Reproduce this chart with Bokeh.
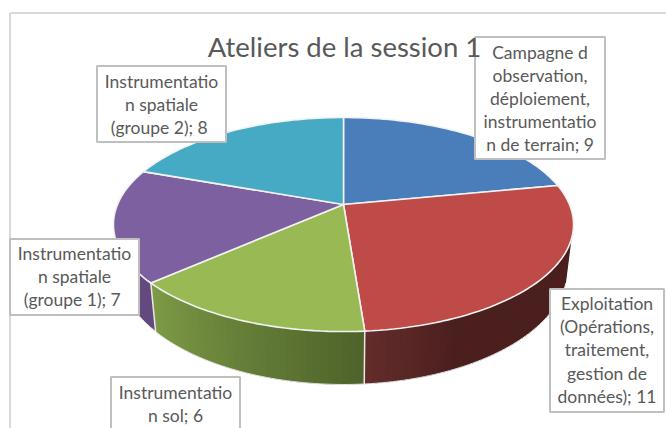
import math
from bokeh.plotting import figure
from bokeh.models import Range1d
from bokeh.core.properties import value
from bokeh.embed import file_html
from bokeh.resources import INLINE

# --- data ---
title = "Ateliers de la session 1"
categories = ["Campagne d observation, déploiement, instrumentation de terrain",
              "Exploitation (Opérations, traitement, gestion de données)",
              "Instrumentation sol",
              "Instrumentation spatiale (groupe 1)",
              "Instrumentation spatiale (groupe 2)"]
values = [9, 11, 6, 7, 8]
top_colors = ["#4A7EBB", "#BE4B48", "#98B954", "#7D60A0", "#46AAC4"]
label_lines = [
    ["Campagne d", "observation,", "déploiement,", "instrumentatio", "n de terrain; 9"],
    ["Exploitation", "(Opérations,", "traitement,", "gestion de", "données); 11"],
    ["Instrumentatio", "n sol; 6"],
    ["Instrumentatio", "n spatiale", "(groupe  1); 7"],
    ["Instrumentatio", "n spatiale", "(groupe  2); 8"],
]
# --- layout (page pixels) ---
label_boxes = [(474.5, 36.5, 604.5, 158.5), (549.5, 288.5, 663.5, 411.5),
               (110.5, 376.5, 239.5, 440), (9.5, 238.5, 138.5, 314.5), (96.5, 65.5, 225.5, 141.5)]
label_y0 = [51.5, 303, 392, 253, 81]
line_h = 23.2
CX, CY, A, B, K = 343.0, 204.0, 226.0, 103.3, 0.187
SX, SY, D = 0.975, 1.09, 41.5

def rim(theta, lower=False):
    t = math.radians(theta)
    x, y = math.sin(t), math.cos(t)
    den = 1 + K * y
    if lower:
        return CX + SX * A * x / den, CY + D - SY * B * y / den
    return CX + A * x / den, CY - B * y / den

def mix(c1, c2, f):
    a = [int(c1[i:i + 2], 16) for i in (1, 3, 5)]
    b = [int(c2[i:i + 2], 16) for i in (1, 3, 5)]
    return "#%02x%02x%02x" % tuple(round(p + (q - p) * f) for p, q in zip(a, b))

p = figure(width=666, height=428, output_backend="svg", toolbar_location=None,
           x_range=Range1d(0, 666), y_range=Range1d(428, 0),
           min_border=0, outline_line_color=None)
p.axis.visible = False
p.grid.visible = False

# chart frame
p.multi_line([[9.5, 9.5], [9.5, 666]], [[428, 12.5], [12.5, 12.5]], line_color="#D9D9D9", line_width=2)

total = sum(values)
edges = [0.0]
for v in values:
    edges.append(edges[-1] + 360.0 * v / total)

# outer wall: overlapping strips shaded along the arc, painted from the far end
VIS_A, VIS_B = 108.0, 250.0
side = {1: ("#4B1F1E", "#652D2C", 0.3), 2: ("#4F632A", "#7E9C47", 1.0), 3: ("#64497F", "#64497F", 1.0)}
for i in (3, 2, 1):
    dark, light, frac = side[i]
    a0, a1 = max(edges[i], VIS_A), min(edges[i + 1], VIS_B)
    n = max(2, int((a1 - a0) / 1.5))
    for j in range(n):
        t0 = a0 + (a1 - a0) * j / n
        t1 = min(a1, t0 + 2.5 * (a1 - a0) / n)
        tm = (t0 + t1) / 2
        q = [rim(t0), rim(tm), rim(t1), rim(t1, True), rim(tm, True), rim(t0, True)]
        if i == 1:
            f = max(0.0, 1 - (a1 - t0) / (a1 - a0) / frac)
        else:
            f = (t0 - a0) / (a1 - a0)
        p.patch([c[0] for c in q], [c[1] for c in q], fill_color=mix(dark, light, f), line_color=None)

# outline of the wall
arc_lo = [rim(VIS_A + (VIS_B - VIS_A) * j / 120, True) for j in range(121)]
p.line([c[0] for c in arc_lo], [c[1] for c in arc_lo], line_color="#E4E4E4", line_width=1)
for e in edges[2:4]:
    u, l = rim(e), rim(e, True)
    p.line([u[0], l[0]], [u[1], l[1]], line_color="#E8E8E8", line_width=1.5)

# top face
for i, col in enumerate(top_colors):
    a0, a1 = edges[i], edges[i + 1]
    n = max(2, int((a1 - a0) / 1.5))
    pts = [(CX, CY)] + [rim(a0 + (a1 - a0) * j / n) for j in range(n + 1)]
    p.patch([c[0] for c in pts], [c[1] for c in pts], fill_color=col, line_color="#F2F2F2", line_width=1.6)

# label boxes + text
for i, lines in enumerate(label_lines):
    x0, y0, x1, y1 = label_boxes[i]
    p.quad(left=[x0], right=[x1], top=[y0], bottom=[y1], fill_color="white", line_color="#BFBFBF", line_width=2)
    lx = [(x0 + x1) / 2] * len(lines)
    ly = [label_y0[i] + k * line_h for k in range(len(lines))]
    p.text(lx, ly, text=lines, text_font=value("Lato"), text_font_size="17.5px", text_color="#595959",
           text_align="center", text_baseline="middle")

p.text([344], [46], text=[title], text_font=value("Lato"), text_font_size="27.5px", text_color="#595959",
       text_align="center", text_baseline="middle")

open("out.html", "w").write(file_html(p, INLINE))
